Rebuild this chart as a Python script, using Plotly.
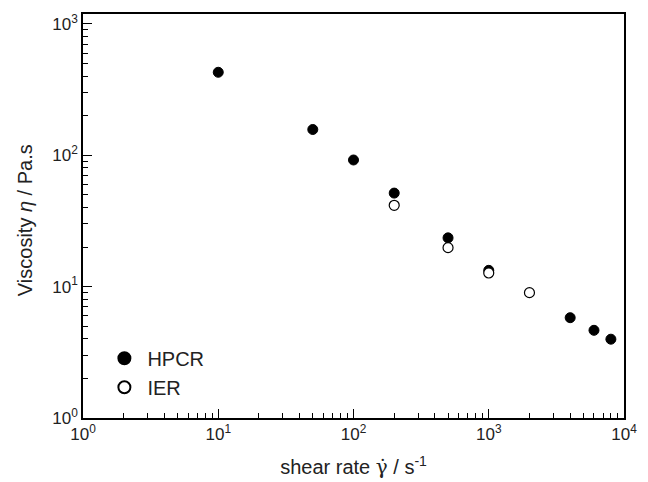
import plotly.graph_objects as go

hpcr_x = [10, 50, 100, 200, 500, 1000, 4000, 6000, 8000]
hpcr_y = [428, 157, 92, 51.5, 23.5, 13.3, 5.8, 4.65, 3.98]
ier_x = [200, 500, 1000, 2000]
ier_y = [41.6, 19.8, 12.7, 9.0]

decades_x = [1, 10, 100, 1000, 10000]
decades_x_text = ["10<sup>0</sup>", "10<sup>1</sup>", "10<sup>2</sup>", "10<sup>3</sup>", "10<sup>4</sup>"]
decades_y = [1, 10, 100, 1000]
decades_y_text = ["10<sup>0</sup>", "10<sup>1</sup>", "10<sup>2</sup>", "10<sup>3</sup>"]

minor_x = [m * d for d in [1, 10, 100, 1000] for m in range(2, 10)]
minor_y = [m * d for d in [1, 10, 100] for m in range(2, 10)]

FONT = "Liberation Sans, Arial, sans-serif"

fig = go.Figure()
fig.add_trace(go.Scatter(
    x=hpcr_x, y=hpcr_y, mode="markers", name="HPCR",
    marker=dict(symbol="circle", size=10, color="black", line=dict(color="black", width=1)),
))
fig.add_trace(go.Scatter(
    x=ier_x, y=ier_y, mode="markers", name="IER",
    marker=dict(symbol="circle", size=10, color="white", line=dict(color="black", width=1.2)),
))

axis_common = dict(
    type="log", showgrid=False, zeroline=False,
    showline=True, linecolor="black", linewidth=1.5, mirror=True,
    ticks="inside", ticklen=9, tickwidth=1.2, tickcolor="black",
    tickfont=dict(family=FONT, size=17, color="#222"),
    ticklabeloverflow="allow",
)

fig.update_xaxes(
    **axis_common, range=[0, 4],
    tickvals=decades_x, ticktext=decades_x_text,
    minor=dict(tickvals=minor_x, ticks="inside", ticklen=5, tickwidth=1.2, tickcolor="black"),
    title=dict(text='shear rate <span style="font-family:DejaVu Serif">γ̇</span> / s<sup>-1</sup>',
               font=dict(family=FONT, size=20, color="#222"), standoff=17),
)
fig.update_yaxes(
    **axis_common, range=[0, 3.075],
    tickvals=decades_y, ticktext=decades_y_text,
    minor=dict(tickvals=minor_y, ticks="inside", ticklen=5, tickwidth=1.2, tickcolor="black"),
)

fig.add_annotation(
    text="Viscosity <i>η</i> / Pa.s", textangle=-90,
    xref="paper", yref="paper", x=-0.107, y=0.49, xanchor="center", yanchor="middle",
    showarrow=False, font=dict(family=FONT, size=20, color="#222"),
)

# page body has an 8px margin, so the figure is offset by 8px; compensate
fig.update_layout(
    width=640, height=474,
    margin=dict(l=75, r=24, t=4, b=64),
    paper_bgcolor="white", plot_bgcolor="white",
    showlegend=True,
    legend=dict(x=0.034, y=0.112, xanchor="left", yanchor="middle",
                font=dict(family=FONT, size=20, color="#222"),
                bgcolor="rgba(0,0,0,0)", tracegroupgap=0, itemsizing="constant",
                itemwidth=36),
)

fig.write_html("out.html")
